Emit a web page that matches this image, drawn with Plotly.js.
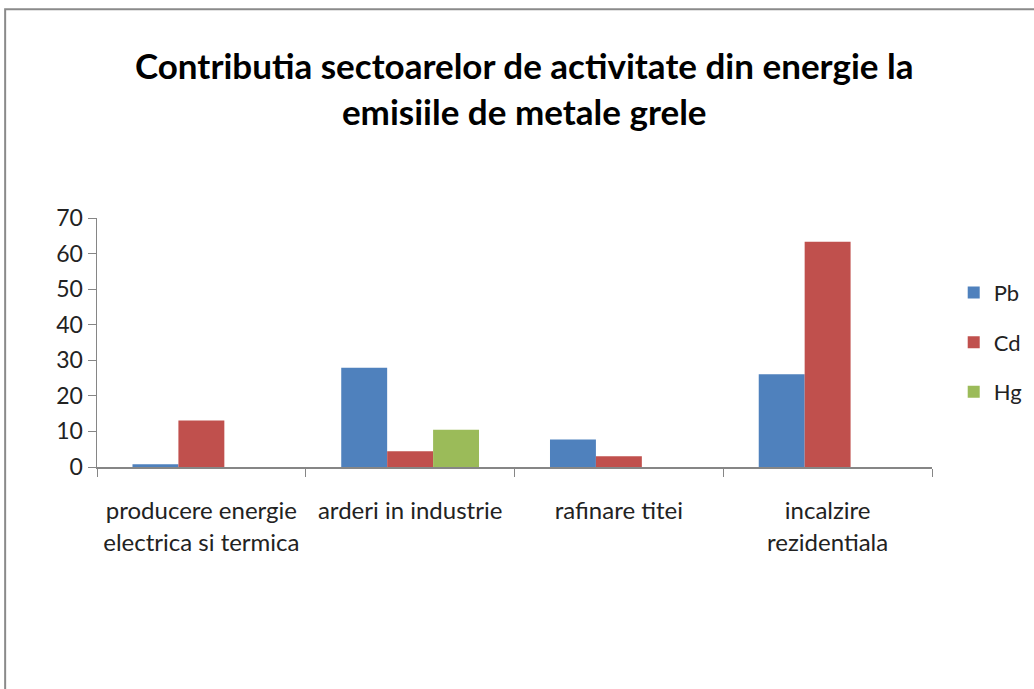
<!DOCTYPE html>
<html><head><meta charset="utf-8">
<script src="https://cdn.plot.ly/plotly-3.0.1.min.js"></script>
<style>html,body{margin:0;padding:0;background:#fff}#chart{width:1034px;height:689px}</style>
</head><body><div id="chart"></div>
<script>
const categories = ["producere energie<br>electrica si termica", "arderi in industrie", "rafinare titei", "incalzire<br>rezidentiala"];
const seriesNames = ["Pb", "Cd", "Hg"];
const pb = [0.8, 27.9, 7.7, 26.1];
const cd = [13.1, 4.4, 3.0, 63.3];
const hg = [null, 10.5, null, null];
const colors = ["#4F81BD", "#C0504D", "#9BBB59"];
const yTicks = [0, 10, 20, 30, 40, 50, 60, 70];
const titleText = "<b>Contributia sectoarelor de activitate din energie la<br>emisiile de metale grele</b>";

const FONT = "Lato, 'Open Sans', sans-serif";
const data = [pb, cd, hg].map((vals, i) => ({
  type: "bar", name: seriesNames[i], x: categories, y: vals, legendgroup: "g" + i,
  marker: {color: colors[i], line: {width: 0}}
}));

const layout = {
  width: 1034, height: 689,
  margin: {l: 97, r: 102, t: 218, b: 222, autoexpand: false},
  paper_bgcolor: "#fff", plot_bgcolor: "#fff",
  font: {family: FONT, size: 23, color: "#222"},
  title: {text: titleText, x: 0.507, xanchor: "center", y: 0.885, yanchor: "top",
          font: {family: FONT, size: 35, color: "#000"}},
  barmode: "group", bargap: 0.34, bargroupgap: 0,
  showlegend: true,
  legend: {x: 1.026, y: 0.784, xanchor: "left", yanchor: "top", tracegroupgap: 18,
           font: {family: FONT, size: 22, color: "#222"}, itemwidth: 30},
  xaxis: {type: "category", showgrid: false, showline: true, linecolor: "#868686", linewidth: 1.5,
          ticks: "outside", tickson: "boundaries", ticklen: 8, tickcolor: "#868686",
          ticklabelstandoff: 22,
          tickfont: {family: FONT, size: 24, color: "#222"}, fixedrange: true},
  yaxis: {range: [0, 70], tickvals: yTicks, showgrid: false, showline: true, linecolor: "#868686", linewidth: 1.5,
          ticks: "outside", ticklen: 8, tickcolor: "#868686", zeroline: false,
          tickfont: {family: FONT, size: 23, color: "#222"}, fixedrange: true},
  shapes: [{type: "rect", xref: "paper", yref: "paper", x0: -0.110, x1: 1.3, y0: -1.2, y1: 1.838,
            line: {color: "#8a8a8a", width: 2}, fillcolor: "rgba(0,0,0,0)", layer: "below"}]
};
Plotly.newPlot("chart", data, layout, {displayModeBar: false, staticPlot: true});
</script></body></html>
